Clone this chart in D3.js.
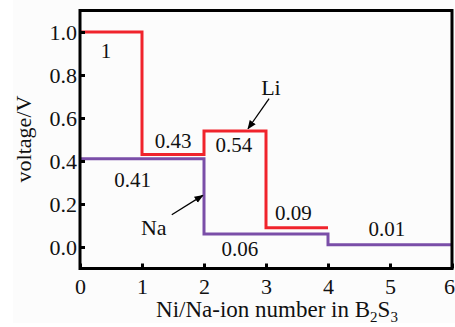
<!DOCTYPE html>
<html>
<head><meta charset="utf-8">
<title>Voltage steps</title>
<style>
body { margin:0; background:#fff; }
svg text { font-family:"Liberation Serif","Times New Roman",serif; fill:#111; }
</style>
</head>
<body>
<svg width="455" height="327"></svg>
<script src="https://d3js.org/d3.v7.min.js"></script>
<script>
// ion number steps (x) and plateau voltages
var ionNumber = [0, 1, 2, 3, 4, 5, 6];
var liVolt = [1.0, 0.43, 0.54, 0.09];            // Li, per unit step 0..4
var naVolt = [0.41, 0.41, 0.06, 0.06, 0.01, 0.01]; // Na, per unit step 0..6
var yTicks = [0.0, 0.2, 0.4, 0.6, 0.8, 1.0];
var stepLabels = ["1", "0.43", "0.54", "0.09", "0.41", "0.06", "0.01"];

var svg = d3.select("svg");
var x = d3.scaleLinear().domain([0, 6]).range([80, 452]);
var y = d3.scaleLinear().domain([-0.1, 1.1]).range([268.5, 10.5]);

svg.append("rect").attr("x", 13).attr("y", 0).attr("width", 442).attr("height", 323).attr("fill", "#fcfcfc");

function steps(v) {
  var pts = v.map(function(d, i) { return [i, d]; });
  pts.push([v.length, v[v.length - 1]]);
  return pts;
}
var line = d3.line()
    .x(function(d) { return x(d[0]); })
    .y(function(d) { return y(d[1]); })
    .curve(d3.curveStepAfter);

svg.append("path").datum(steps(naVolt))
    .attr("d", line).attr("fill", "none")
    .attr("stroke", "#7a4ea8").attr("stroke-width", 3);
svg.append("path").datum(steps(liVolt))
    .attr("d", line).attr("fill", "none")
    .attr("stroke", "#f0242c").attr("stroke-width", 3);

// frame
svg.append("rect")
    .attr("x", x(0)).attr("y", y(1.1))
    .attr("width", x(6) - x(0)).attr("height", y(-0.1) - y(1.1))
    .attr("fill", "none").attr("stroke", "#000").attr("stroke-width", 3);

var xAxis = svg.append("g").attr("transform", "translate(0," + y(-0.1) + ")")
    .call(d3.axisBottom(x).tickValues(ionNumber).tickSize(-5).tickPadding(10).tickFormat(d3.format("d")));
var yAxis = svg.append("g").attr("transform", "translate(" + x(0) + ",0)")
    .call(d3.axisLeft(y).tickValues(yTicks).tickSize(-5).tickPadding(3).tickFormat(d3.format(".1f")));
[xAxis, yAxis].forEach(function(g) {
  g.select(".domain").remove();
  g.selectAll(".tick line").attr("stroke", "#000").attr("stroke-width", 3);
  g.selectAll("text").attr("font-size", 22).attr("font-family", "Liberation Serif").attr("fill", "#111");
});
xAxis.selectAll(".tick text").filter(function(d) { return d === 6; }).attr("dx", -3);

// step value labels, placed in data coordinates
var labelPos = [[0.42, 0.88], [1.5, 0.46], [2.48, 0.44], [3.44, 0.126], [0.85, 0.28], [2.58, -0.04], [4.95, 0.05]];
svg.selectAll(".val").data(stepLabels).enter().append("text")
    .attr("class", "val")
    .attr("x", function(d, i) { return x(labelPos[i][0]); })
    .attr("y", function(d, i) { return y(labelPos[i][1]); })
    .attr("text-anchor", "middle").attr("font-size", 21)
    .text(function(d) { return d; });

// series callouts
svg.append("defs").append("marker")
    .attr("id", "arr").attr("viewBox", "0 0 10 10").attr("refX", 9).attr("refY", 5)
    .attr("markerWidth", 7).attr("markerHeight", 7).attr("orient", "auto")
  .append("path").attr("d", "M0,1L10,5L0,9z").attr("fill", "#000");

var callouts = [
  {name: "Li", tx: 3.08, ty: 0.707, from: [3.05, 0.69], to: [2.71, 0.55]},
  {name: "Na", tx: 1.19, ty: 0.056, from: [1.48, 0.15], to: [1.98, 0.24]}
];
callouts.forEach(function(c) {
  svg.append("text").attr("x", x(c.tx)).attr("y", y(c.ty))
      .attr("text-anchor", "middle").attr("font-size", 22).text(c.name);
  svg.append("line")
      .attr("x1", x(c.from[0])).attr("y1", y(c.from[1]))
      .attr("x2", x(c.to[0])).attr("y2", y(c.to[1]))
      .attr("stroke", "#000").attr("stroke-width", 1.3)
      .attr("marker-end", "url(#arr)");
});

// axis titles
var xt = svg.append("text").attr("x", 277).attr("y", 317)
    .attr("text-anchor", "middle").attr("font-size", 23);
xt.append("tspan").text("Ni/Na-ion number in B");
xt.append("tspan").attr("font-size", 15).attr("dy", 5).text("2");
xt.append("tspan").attr("dy", -5).text("S");
xt.append("tspan").attr("font-size", 15).attr("dy", 5).text("3");

svg.append("text")
    .attr("transform", "translate(31,139) rotate(-90)")
    .attr("text-anchor", "middle").attr("font-size", 22)
    .text("voltage/V");
</script>
</body>
</html>
